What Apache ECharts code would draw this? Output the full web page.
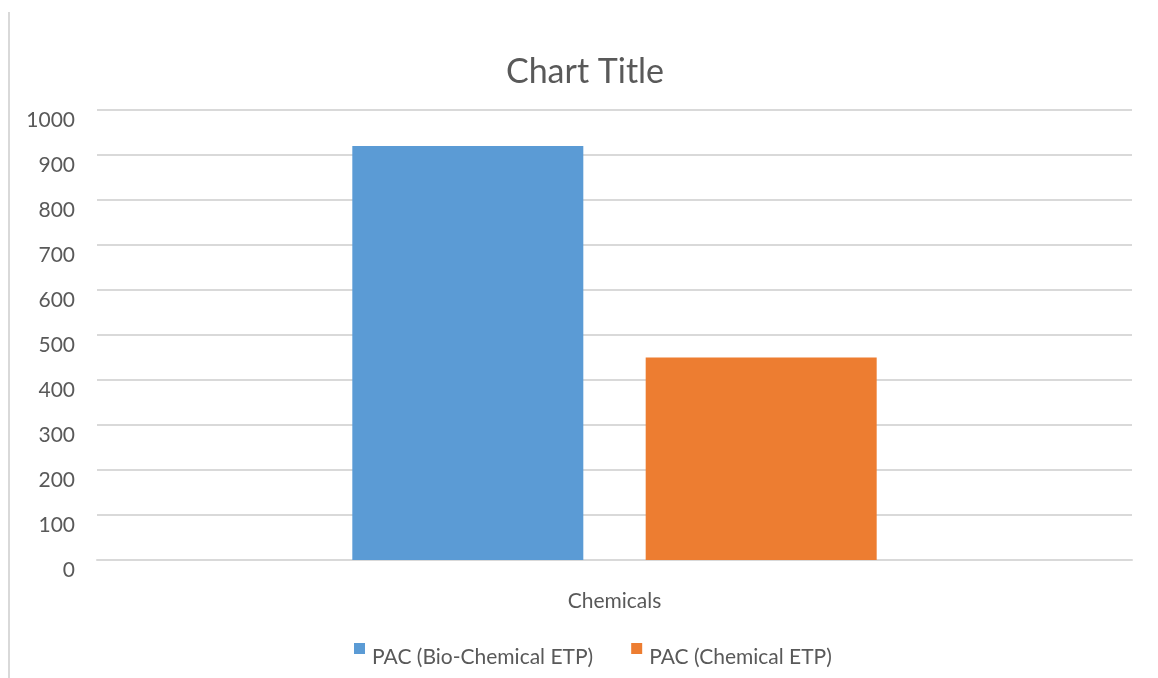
<!DOCTYPE html>
<html>
<head>
<meta charset="utf-8">
<script src="https://cdn.jsdelivr.net/npm/echarts@6/dist/echarts.min.js"></script>
<style>
  html, body { margin: 0; padding: 0; background: #fff; }
  #chart { width: 1158px; height: 678px; }
</style>
</head>
<body>
<div id="chart"></div>
<script>
// Chart data
const categories = ['Chemicals'];
const seriesNames = ['PAC (Bio-Chemical ETP)', 'PAC (Chemical ETP)'];
const bioChemicalValues = [920];
const chemicalValues = [450];
const seriesColors = ['#5b9bd5', '#ed7d31'];

const textColor = '#595959';
const fontFamily = 'Lato, "Open Sans", sans-serif';

// Legend swatch: a square sitting in the upper part of a taller box,
// so the key is raised slightly above the text's middle.
const raisedSquare = 'path://M0,0h11v11h-11z M0,27.9h0.1v0.1h-0.1z';

const chart = echarts.init(document.getElementById('chart'));
chart.setOption({
  animation: false,
  color: seriesColors,
  title: {
    text: 'Chart Title',
    left: 580,
    top: 50,
    textAlign: 'center',
    textStyle: { color: textColor, fontSize: 34, fontWeight: 'normal', fontFamily: fontFamily }
  },
  legend: {
    data: seriesNames,
    left: 349,
    top: 638,
    itemWidth: 11,
    itemHeight: 28,
    itemGap: 38,
    icon: raisedSquare,
    textStyle: { color: textColor, fontSize: 21, fontFamily: fontFamily, padding: [0, 0, 0, 2] }
  },
  grid: { left: 97, right: 26, top: 110, bottom: 118 },
  xAxis: {
    type: 'category',
    data: categories,
    axisLine: { show: true, lineStyle: { color: '#d9d9d9', width: 2 } },
    axisTick: { show: false },
    axisLabel: { show: true, margin: 31, color: textColor, fontSize: 21, fontFamily: fontFamily }
  },
  yAxis: {
    type: 'value',
    min: 0,
    max: 1000,
    interval: 100,
    axisLine: { show: false },
    axisTick: { show: false },
    splitLine: { lineStyle: { color: '#d9d9d9', width: 2 } },
    axisLabel: {
      margin: 22,
      color: textColor,
      fontSize: 21,
      fontFamily: fontFamily,
      verticalAlign: 'top',
      formatter: (v) => String(v)
    }
  },
  series: [
    {
      name: seriesNames[0],
      type: 'bar',
      data: bioChemicalValues,
      barWidth: 231,
      barGap: '27%'
    },
    {
      name: seriesNames[1],
      type: 'bar',
      data: chemicalValues,
      barWidth: 231,
      barGap: '27%'
    }
  ],
  graphic: [
    {
      type: 'line',
      shape: { x1: 9, y1: 12, x2: 9, y2: 678 },
      style: { stroke: '#d9d9d9', lineWidth: 2 }
    }
  ]
});
</script>
</body>
</html>
